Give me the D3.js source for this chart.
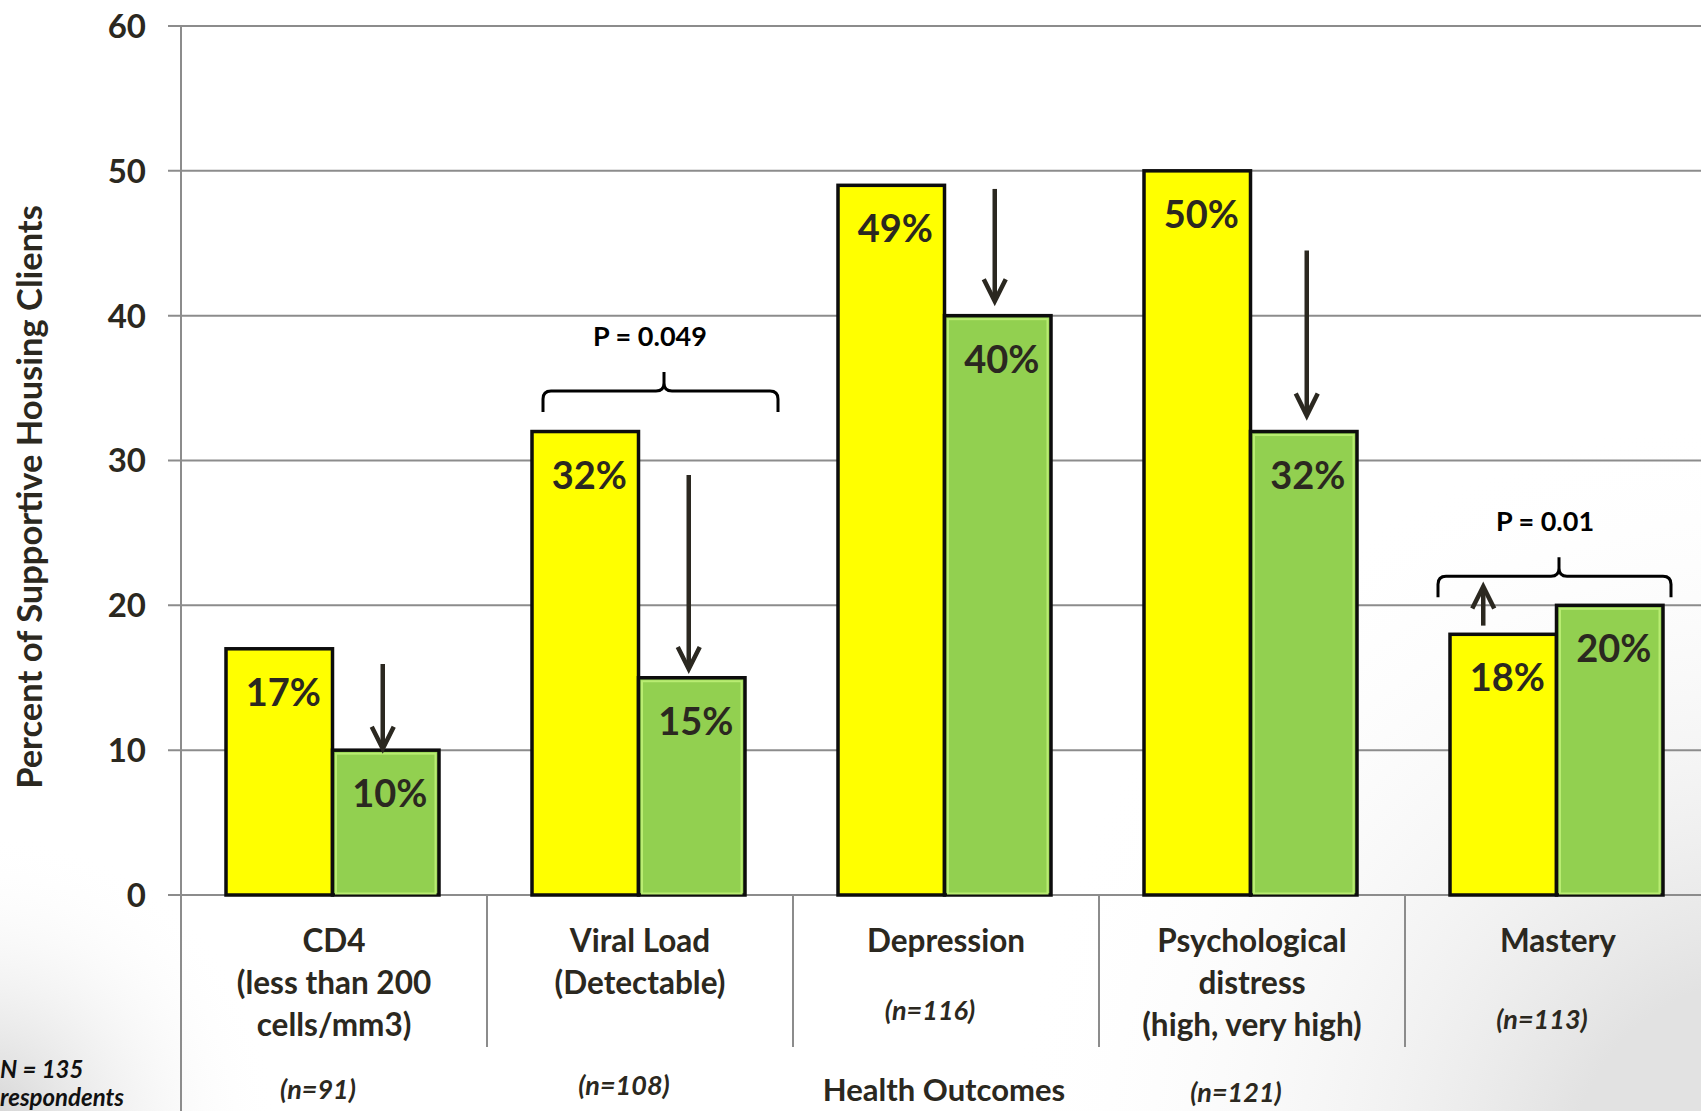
<!DOCTYPE html>
<html><head><meta charset="utf-8">
<script src="https://cdn.jsdelivr.net/npm/d3@7"></script>
<style>html,body{margin:0;padding:0;background:#fff;overflow:hidden}svg{display:block}</style>
</head><body>
<svg id="chart" width="1701" height="1111"></svg>
<script>
// ---------- data ----------
const categories = ["CD4", "Viral Load", "Depression", "Psychological distress", "Mastery"];
const categoryLines = [
  ["CD4", "(less than 200", "cells/mm3)"],
  ["Viral Load", "(Detectable)"],
  ["Depression"],
  ["Psychological", "distress", "(high, very high)"],
  ["Mastery"]
];
const sampleSizes = ["(n=91)", "(n=108)", "(n=116)", "(n=121)", "(n=113)"];
const beforeValues = [17, 32, 49, 50, 18];
const afterValues = [10, 15, 40, 32, 20];
const yTicks = [0, 10, 20, 30, 40, 50, 60];
const changeArrows = [
  { cat: "CD4", series: "after", from: 15.95, to: 10.1 },
  { cat: "Viral Load", series: "after", from: 29.0, to: 15.6 },
  { cat: "Depression", series: "after", from: 48.75, to: 41.0 },
  { cat: "Psychological distress", series: "after", from: 44.5, to: 33.1 },
  { cat: "Mastery", series: "before", from: 18.6, to: 21.3 }
];
const pValues = [
  { cat: "Viral Load", label: "P = 0.049", level: 34.8 },
  { cat: "Mastery", label: "P = 0.01", level: 22.0 }
];
const totalNote = ["N = 135", "respondents"];
const axisTitle = "Percent of Supportive Housing Clients";
const groupTitle = "Health Outcomes";

// ---------- layout ----------
const W = 1701, H = 1111;
const FONT = "Lato, 'Open Sans', sans-serif";
const TXT = "#2b2820";
const svg = d3.select("#chart");

const defs = svg.append("defs");
const g1 = defs.append("radialGradient").attr("id", "bgR")
  .attr("gradientUnits", "userSpaceOnUse").attr("cx", W + 60).attr("cy", H + 60).attr("r", 760);
g1.append("stop").attr("offset", "25%").attr("stop-color", "#e2e2e2").attr("stop-opacity", 1);
g1.append("stop").attr("offset", "100%").attr("stop-color", "#ffffff").attr("stop-opacity", 0);
const g2 = defs.append("radialGradient").attr("id", "bgL")
  .attr("gradientUnits", "userSpaceOnUse").attr("cx", -20).attr("cy", H + 20).attr("r", 300);
g2.append("stop").attr("offset", "10%").attr("stop-color", "#d8d8d8").attr("stop-opacity", 1);
g2.append("stop").attr("offset", "100%").attr("stop-color", "#ffffff").attr("stop-opacity", 0);
svg.append("rect").attr("width", W).attr("height", H).attr("fill", "#ffffff");
svg.append("rect").attr("width", W).attr("height", H).attr("fill", "url(#bgR)");
svg.append("rect").attr("width", W).attr("height", H).attr("fill", "url(#bgL)");

const y = d3.scaleLinear().domain([0, 60]).range([895, 26]);
const x = d3.scaleBand().domain(categories).range([181, 1711]).paddingInner(0).paddingOuter(0);
const xs = d3.scaleBand().domain(["before", "after"]).range([45, 258]).padding(0);

// gridlines + ticks
svg.append("g").selectAll("line").data(yTicks).join("line")
  .attr("x1", 168).attr("x2", W)
  .attr("y1", d => y(d)).attr("y2", d => y(d))
  .attr("stroke", "#8c8c8c").attr("stroke-width", 2);

// y axis line
svg.append("line").attr("x1", 181).attr("x2", 181).attr("y1", y(60)).attr("y2", H)
  .attr("stroke", "#8c8c8c").attr("stroke-width", 2);

// category separators
svg.append("g").selectAll("line").data(categories.slice(1)).join("line")
  .attr("x1", d => x(d)).attr("x2", d => x(d))
  .attr("y1", y(0)).attr("y2", 1047)
  .attr("stroke", "#8c8c8c").attr("stroke-width", 2);

// tick labels
svg.append("g").selectAll("text").data(yTicks).join("text")
  .attr("x", 146).attr("y", d => y(d)).attr("dy", "0.36em")
  .attr("text-anchor", "end").attr("font-family", FONT).attr("font-weight", 700)
  .attr("font-size", 33).attr("fill", TXT).text(d => d);

// axis title
svg.append("text").attr("transform", "translate(30,497) rotate(-90)")
  .attr("text-anchor", "middle").attr("dy", "0.35em")
  .attr("font-family", FONT).attr("font-weight", 700).attr("font-size", 34.5)
  .attr("fill", TXT).text(axisTitle);

// bars
const barData = [];
categories.forEach((c, i) => {
  barData.push({ cat: c, series: "before", value: beforeValues[i] });
  barData.push({ cat: c, series: "after", value: afterValues[i] });
});
const gBars = svg.append("g");
gBars.selectAll("rect.bar").data(barData).join("rect").attr("class", "bar")
  .attr("x", d => x(d.cat) + xs(d.series))
  .attr("width", xs.bandwidth())
  .attr("y", d => y(d.value))
  .attr("height", d => y(0) - y(d.value))
  .attr("fill", d => d.series === "before" ? "#ffff00" : "#92d050")
  .attr("stroke", "#0d0d0d").attr("stroke-width", 3.5);
gBars.selectAll("rect.inner").data(barData.filter(d => d.series === "after")).join("rect").attr("class", "inner")
  .attr("x", d => x(d.cat) + xs(d.series) + 3.5)
  .attr("width", xs.bandwidth() - 7)
  .attr("y", d => y(d.value) + 3.5)
  .attr("height", d => y(0) - y(d.value) - 5)
  .attr("fill", "none").attr("stroke", "#b9ec72").attr("stroke-width", 2);

// bar value labels
gBars.selectAll("text").data(barData).join("text")
  .attr("x", d => x(d.cat) + xs(d.series) + xs.bandwidth() / 2 + 4)
  .attr("y", d => y(d.value) + 57)
  .attr("text-anchor", "middle").attr("font-family", FONT).attr("font-weight", 700)
  .attr("font-size", 38).attr("fill", TXT).text(d => d.value + "%");

// category labels
const gCat = svg.append("g");
categories.forEach((c, i) => {
  const t = gCat.append("text").attr("text-anchor", "middle")
    .attr("font-family", FONT).attr("font-weight", 700).attr("font-size", 31.5).attr("fill", TXT);
  categoryLines[i].forEach((line, j) => {
    t.append("tspan").attr("x", x(c) + x.bandwidth() / 2).attr("y", 952 + j * 42).text(line);
  });
});

// sample sizes
const nRowY = [1099, 1095, 1020, 1102, 1029];
svg.append("g").selectAll("text").data(sampleSizes).join("text")
  .attr("x", (d, i) => x(categories[i]) + x.bandwidth() / 2 - 16)
  .attr("y", (d, i) => nRowY[i])
  .attr("text-anchor", "middle").attr("font-family", FONT).attr("font-weight", 700)
  .attr("font-style", "italic").attr("font-size", 27).attr("fill", TXT).text(d => d);

// group title
svg.append("text").attr("x", 944).attr("y", 1101).attr("text-anchor", "middle")
  .attr("font-family", FONT).attr("font-weight", 700).attr("font-size", 31).attr("fill", TXT)
  .text(groupTitle);

// total N note
svg.append("g").selectAll("text").data(totalNote).join("text")
  .attr("x", 0).attr("y", (d, i) => 1078 + i * 28)
  .attr("font-family", FONT).attr("font-weight", 700).attr("font-style", "italic")
  .attr("font-size", 24).attr("fill", "#111").text(d => d);

// change arrows
const arrowDx = { "CD4": -3, "Viral Load": -3, "Depression": -3, "Psychological distress": 3, "Mastery": -20 };
const gArr = svg.append("g").attr("stroke", "#2b2820").attr("stroke-width", 4.5)
  .attr("fill", "none").attr("stroke-linecap", "butt").attr("stroke-linejoin", "miter");
changeArrows.forEach(a => {
  const ax = x(a.cat) + xs(a.series) + xs.bandwidth() / 2 + arrowDx[a.cat];
  const y0 = y(a.from), y1 = y(a.to);
  const dir = y1 > y0 ? 1 : -1;
  gArr.append("line").attr("x1", ax).attr("x2", ax).attr("y1", y0).attr("y2", y1 - dir * 2);
  gArr.append("path").attr("d", `M${ax - 11},${y1 - dir * 22}L${ax},${y1}L${ax + 11},${y1 - dir * 22}`);
});

// p-value braces
const braceSpan = { "Viral Load": [56, 291, 177], "Mastery": [33, 266, 154] };
const gBr = svg.append("g");
pValues.forEach(p => {
  const [a, b, m] = braceSpan[p.cat];
  const x0 = x(p.cat) + a, x1 = x(p.cat) + b, xm = x(p.cat) + m;
  const yh = y(p.level), ye = yh + 21, yt = yh - 19, r = 8;
  gBr.append("path")
    .attr("d", `M${x0},${ye}L${x0},${yh + r}Q${x0},${yh} ${x0 + r},${yh}L${xm - r},${yh}Q${xm},${yh} ${xm},${yh - r}L${xm},${yt}` +
      `M${xm},${yh - r}Q${xm},${yh} ${xm + r},${yh}L${x1 - r},${yh}Q${x1},${yh} ${x1},${yh + r}L${x1},${ye}`)
    .attr("fill", "none").attr("stroke", "#000").attr("stroke-width", 3);
  gBr.append("text").attr("x", xm - 14).attr("y", yh - 45).attr("text-anchor", "middle")
    .attr("font-family", FONT).attr("font-weight", 700).attr("font-size", 27).attr("fill", "#000")
    .text(p.label);
});
</script>
</body></html>
